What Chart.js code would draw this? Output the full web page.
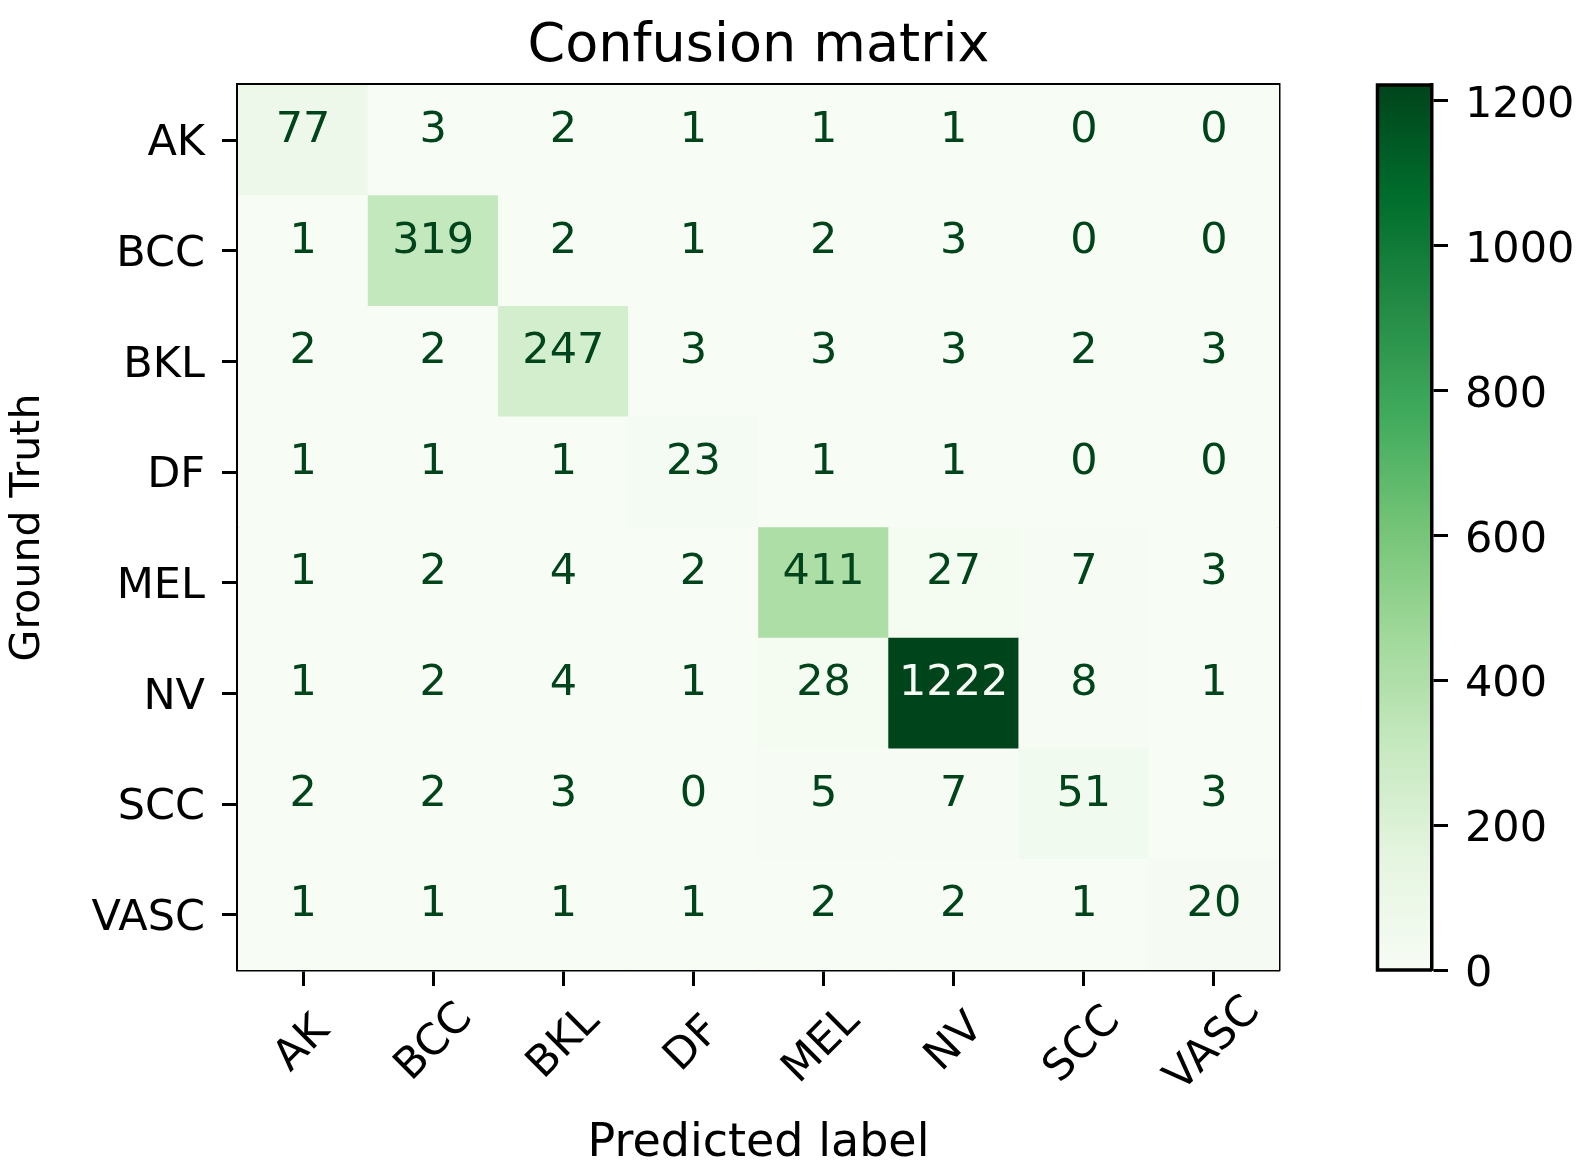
<!DOCTYPE html>
<html>
<head>
<meta charset="utf-8">
<script src="https://cdn.jsdelivr.net/npm/chart.js@4.4.1/dist/chart.umd.min.js"></script>
<style>
html,body{margin:0;padding:0;background:#fff;overflow:hidden}
canvas{display:block}
</style>
</head>
<body>
<canvas id="c" width="1583" height="1168"></canvas>
<script>
// ---- data ----
const classLabels = ['AK', 'BCC', 'BKL', 'DF', 'MEL', 'NV', 'SCC', 'VASC'];
const rowAK   = [77, 3, 2, 1, 1, 1, 0, 0];
const rowBCC  = [1, 319, 2, 1, 2, 3, 0, 0];
const rowBKL  = [2, 2, 247, 3, 3, 3, 2, 3];
const rowDF   = [1, 1, 1, 23, 1, 1, 0, 0];
const rowMEL  = [1, 2, 4, 2, 411, 27, 7, 3];
const rowNV   = [1, 2, 4, 1, 28, 1222, 8, 1];
const rowSCC  = [2, 2, 3, 0, 5, 7, 51, 3];
const rowVASC = [1, 1, 1, 1, 2, 2, 1, 20];
const matrix = [rowAK, rowBCC, rowBKL, rowDF, rowMEL, rowNV, rowSCC, rowVASC];
const colorbarTicks = [0, 200, 400, 600, 800, 1000, 1200];
const titleText = 'Confusion matrix';
const xTitle = 'Predicted label';
const yTitle = 'Ground Truth';

// ---- colormap (matplotlib Greens) ----
const greensStops = ['#f7fcf5','#e5f5e0','#c7e9c0','#a1d99b','#74c476','#41ab5d','#238b45','#006d2c','#00441b'];
const stopRgb = greensStops.map(h => [1,3,5].map(i => parseInt(h.substr(i,2),16)));
function greens(t){
  t = Math.max(0, Math.min(1, t));
  const s = t * (stopRgb.length - 1);
  const i = Math.min(stopRgb.length - 2, Math.floor(s));
  const f = s - i;
  const c = stopRgb[i].map((v,k) => Math.round(v + (stopRgb[i+1][k] - v) * f));
  return `rgb(${c[0]},${c[1]},${c[2]})`;
}

const allVals = matrix.flat();
const vmin = Math.min(...allVals);
const vmax = Math.max(...allVals);
const thresh = (vmax + vmin) / 2;

// ---- cells for the bar-based heatmap ----
const cells = [];
matrix.forEach((row, r) => row.forEach((v, c) => {
  cells.push({x: classLabels[c], y: [r - 0.5, r + 0.5], v: v});
}));

// ---- styles ----
const FONT = '"DejaVu Sans"';
const TICK_PX = 43;
Chart.defaults.font.family = FONT + ', sans-serif';
Chart.defaults.color = '#000';

// padding for rotated x labels so they centre under their tick
const K = 60;
const mctx = document.createElement('canvas').getContext('2d');
mctx.font = `${TICK_PX}px ${FONT}`;
function padLabel(s){
  const w = mctx.measureText(s).width;
  const target = K + w / 2;
  let out = s;
  const guard = 40;
  let n = 0;
  while (mctx.measureText(out + ' ').width <= target && n++ < guard) out += ' ';
  const hs = mctx.measureText('\u200A').width;
  if (hs > 0.5) {
    n = 0;
    while (mctx.measureText(out + '\u200A').width <= target + hs / 2 && n++ < guard) out += '\u200A';
  }
  return out;
}
const paddedX = classLabels.map(padLabel);

const frameBorder = {display: true, width: 3.5, color: '#000'};
const tickGrid = {display: true, drawOnChartArea: false, tickLength: 16, tickWidth: 3, tickColor: '#000'};

// colorbar gradient & frame
const CB_W = 54.5;
const colorbarPlugin = {
  id: 'colorbar',
  beforeDraw(chart){
    const s = chart.scales.cb;
    const ctx = chart.ctx;
    const x0 = s.left - CB_W, x1 = s.left;
    const yb = s.getPixelForValue(vmin), yt = s.getPixelForValue(vmax);
    const g = ctx.createLinearGradient(0, yb, 0, yt);
    greensStops.forEach((c, i) => g.addColorStop(i / (greensStops.length - 1), c));
    ctx.save();
    ctx.fillStyle = g;
    ctx.fillRect(x0, yt, x1 - x0, yb - yt);
    ctx.restore();
  },
  afterDraw(chart){
    const s = chart.scales.cb;
    const ctx = chart.ctx;
    const x0 = s.left - CB_W, x1 = s.left;
    const yb = s.getPixelForValue(vmin), yt = s.getPixelForValue(vmax);
    ctx.save();
    ctx.strokeStyle = '#000';
    ctx.lineWidth = 3.5;
    ctx.beginPath();
    ctx.moveTo(x1, yt); ctx.lineTo(x0, yt); ctx.lineTo(x0, yb); ctx.lineTo(x1, yb);
    ctx.stroke();
    ctx.restore();
  }
};

// value annotations
const annotatePlugin = {
  id: 'annotate',
  afterDatasetsDraw(chart){
    const {ctx} = chart;
    const xs = chart.scales.x, ys = chart.scales.y;
    ctx.save();
    ctx.font = `${TICK_PX}px ${FONT}`;
    ctx.textAlign = 'center';
    ctx.textBaseline = 'middle';
    matrix.forEach((row, r) => row.forEach((v, c) => {
      ctx.fillStyle = v < thresh ? greensStops[greensStops.length - 1] : greensStops[0];
      ctx.fillText(String(v), xs.getPixelForValue(c), ys.getPixelForValue(r) - 9.5);
    }));
    ctx.restore();
  }
};

new Chart(document.getElementById('c'), {
  type: 'bar',
  data: {
    labels: classLabels,
    datasets: [{
      data: cells,
      backgroundColor: ctx => (ctx.raw ? greens((ctx.raw.v - vmin) / (vmax - vmin)) : '#fff'),
      borderWidth: 0,
      barPercentage: 1,
      categoryPercentage: 1
    }]
  },
  options: {
    responsive: false,
    animation: false,
    devicePixelRatio: 1,
    events: [],
    layout: {padding: 0, autoPadding: false},
    plugins: {legend: {display: false}, tooltip: {enabled: false}, title: {display: false}},
    scales: {
      x: {
        type: 'category', position: 'bottom', offset: true, z: 1,
        grid: Object.assign({}, tickGrid, {offset: false}),
        border: frameBorder,
        ticks: {autoSkip: false, minRotation: 45, maxRotation: 45, padding: -2.6, labelOffset: 0.7071 * K,
                color: '#000', font: {size: TICK_PX}, callback: (v, i) => paddedX[i]},
        title: {display: true, text: xTitle, color: '#000', font: {size: 46, lineHeight: 1}, padding: {top: 0, bottom: 1}},
        afterFit: s => { s.height = 198; }
      },
      y: {
        type: 'linear', position: 'left', min: -0.5, max: 7.5, reverse: true, z: 1,
        grid: tickGrid,
        border: frameBorder,
        afterBuildTicks: s => { s.ticks = classLabels.map((_, i) => ({value: i})); },
        ticks: {autoSkip: false, padding: 17, labelOffset: 4, color: '#000', font: {size: TICK_PX},
                callback: v => (classLabels[v] !== undefined ? classLabels[v] : '')},
        title: {display: true, text: yTitle, color: '#000', font: {size: 41, lineHeight: 1}, padding: {top: 7.5, bottom: 0}},
        afterFit: s => { s.width = 238; }
      },
      x2: {
        type: 'linear', position: 'top', z: 1,
        grid: {display: false}, ticks: {display: false},
        border: frameBorder,
        title: {display: true, text: titleText, color: '#000', font: {size: 54, lineHeight: 1}, padding: {top: 20, bottom: 0}},
        afterFit: s => { s.height = 85; }
      },
      y2: {
        type: 'linear', position: 'right', weight: 0, z: 1,
        grid: {display: false}, ticks: {display: false},
        border: frameBorder,
        afterFit: s => { s.width = 153; }
      },
      cb: {
        type: 'linear', position: 'right', weight: 1, min: vmin, max: vmax,
        grid: tickGrid,
        border: frameBorder,
        afterBuildTicks: s => { s.ticks = colorbarTicks.map(v => ({value: v})); },
        ticks: {autoSkip: false, padding: 17, labelOffset: 5, color: '#000', font: {size: TICK_PX},
                callback: v => String(v)},
        afterFit: s => { s.width = 151; }
      }
    }
  },
  plugins: [colorbarPlugin, annotatePlugin]
});
</script>
</body>
</html>
